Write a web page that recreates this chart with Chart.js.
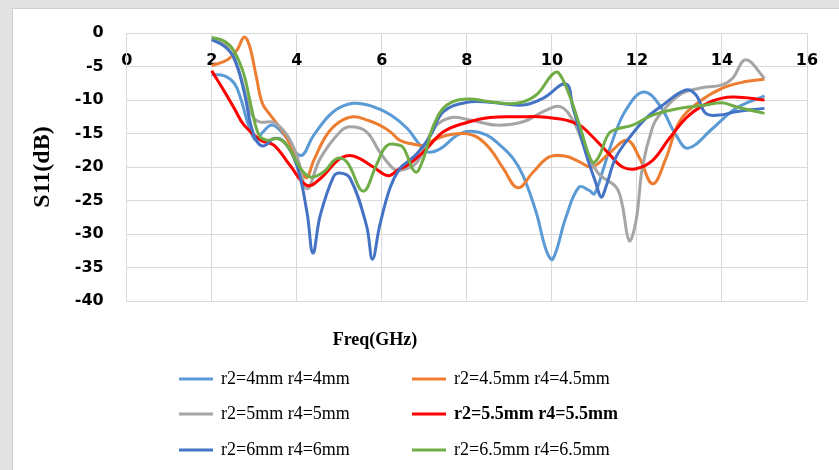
<!DOCTYPE html>
<html>
<head>
<meta charset="utf-8">
<script src="https://cdn.jsdelivr.net/npm/chart.js@4.4.0/dist/chart.umd.min.js"></script>
<style>
  html, body { margin: 0; padding: 0; background: #e2e2e2; }
  #wrap { position: relative; width: 839px; height: 470px; overflow: hidden; }
  #panel { position: absolute; left: 12px; top: 8px; width: 840px; height: 470px; background: #fff; border: 1px solid #d2d2d2; }
  canvas { position: absolute; left: 0; top: 0; }
</style>
</head>
<body>
<div id="wrap">
  <div id="panel"></div>
  <canvas id="grafica" width="839" height="470"></canvas>
</div>
<script>
/* S11 vs frecuencia para distintos radios r2 / r4 */

// etiquetas de las series (leyenda)
const etiquetas = ['r2=4mm r4=4mm', 'r2=4.5mm r4=4.5mm', 'r2=5mm r4=5mm', 'r2=5.5mm r4=5.5mm', 'r2=6mm r4=6mm', 'r2=6.5mm r4=6.5mm'];
const colores = ['#5B9BD5', '#ED7D31', '#A5A5A5', '#FF0000', '#4472C4', '#70AD47'];

// ticks de los ejes
const ticksX = [0, 2, 4, 6, 8, 10, 12, 14, 16];
const ticksY = [0, -5, -10, -15, -20, -25, -30, -35, -40];

// r2=4mm r4=4mm
const freq4 = [2.0, 2.3, 2.53, 2.68, 2.84, 3.03, 3.2, 3.42, 3.7, 4.09, 4.4, 4.86, 5.33, 5.8, 6.21, 6.6, 6.84, 7.07, 7.38, 7.77, 8.08, 8.47, 8.78, 9.09, 9.32, 9.63, 9.87, 10.02, 10.33, 10.64, 10.88, 11.0, 11.2, 11.43, 11.74, 12.15, 12.53, 12.92, 13.2, 13.78, 14.33, 15.0];
const s11_4 = [-6.2, -6.4, -7.5, -9.75, -13.25, -16.0, -14.8, -13.75, -15.2, -18.3, -15.25, -11.75, -10.5, -11.0, -12.25, -14.25, -16.25, -17.75, -17.25, -15.25, -14.65, -15.25, -16.75, -18.75, -21.25, -26.75, -32.5, -33.75, -27.5, -23.0, -23.5, -24.0, -20.5, -16.0, -11.5, -8.8, -10.75, -15.25, -17.2, -14.25, -11.25, -9.4];

// r2=4.5mm r4=4.5mm
const freq45 = [2.0, 2.37, 2.6, 2.76, 2.88, 3.04, 3.19, 3.38, 3.7, 4.0, 4.22, 4.4, 4.7, 5.0, 5.33, 5.7, 5.95, 6.2, 6.42, 6.67, 6.98, 7.22, 7.53, 7.92, 8.23, 8.54, 8.86, 9.2, 9.56, 9.94, 10.33, 10.64, 10.95, 11.34, 11.77, 12.05, 12.37, 12.68, 13.0, 13.47, 14.0, 14.56, 15.0];
const s11_45 = [-4.85, -4.0, -2.5, -0.6, -1.75, -6.25, -10.5, -12.25, -15.0, -18.75, -21.6, -19.0, -15.25, -13.3, -12.5, -13.1, -13.75, -14.75, -16.0, -16.5, -16.75, -16.0, -15.25, -15.0, -15.5, -17.25, -20.25, -23.1, -20.75, -18.5, -18.4, -19.2, -20.0, -18.0, -16.0, -18.5, -22.5, -18.75, -13.25, -10.25, -8.25, -7.25, -6.9];

// r2=5mm r4=5mm
const freq5 = [2.0, 2.37, 2.68, 2.85, 3.0, 3.15, 3.46, 3.77, 4.0, 4.24, 4.55, 5.02, 5.26, 5.64, 5.95, 6.27, 6.44, 6.83, 7.22, 7.61, 8.08, 8.7, 9.32, 9.87, 10.2, 10.49, 10.8, 11.1, 11.51, 11.65, 11.82, 11.98, 12.13, 12.37, 12.53, 13.0, 13.47, 14.0, 14.25, 14.56, 15.0];
const s11_5 = [-0.9, -2.2, -6.5, -10.5, -12.75, -13.3, -13.35, -15.25, -18.25, -23.25, -18.75, -14.75, -14.0, -14.75, -17.75, -20.25, -20.5, -19.25, -14.25, -12.65, -13.0, -13.75, -13.25, -11.5, -11.0, -13.0, -17.5, -21.0, -23.0, -25.5, -31.0, -28.0, -20.0, -14.0, -12.25, -9.25, -8.25, -7.75, -6.75, -4.0, -6.75];

// r2=5.5mm r4=5.5mm
const freq55 = [2.0, 2.3, 2.53, 2.76, 3.15, 3.46, 3.84, 4.24, 4.55, 5.02, 5.33, 5.8, 6.15, 6.42, 6.6, 6.98, 7.45, 8.0, 8.54, 9.32, 9.7, 10.1, 10.33, 10.65, 10.88, 11.34, 11.66, 11.98, 12.37, 12.76, 13.23, 13.78, 14.25, 15.0];
const s11_55 = [-5.65, -8.75, -11.25, -13.75, -16.0, -16.75, -19.75, -22.75, -21.75, -18.75, -18.35, -20.0, -21.3, -20.25, -19.75, -17.75, -14.75, -13.35, -12.6, -12.5, -12.5, -12.75, -13.0, -13.75, -15.0, -18.0, -20.0, -20.25, -19.0, -15.75, -12.25, -10.15, -9.55, -10.0];

// r2=6mm r4=6mm
const freq6 = [2.0, 2.3, 2.53, 2.76, 2.92, 3.07, 3.23, 3.46, 3.7, 4.0, 4.24, 4.38, 4.55, 4.86, 5.02, 5.26, 5.64, 5.78, 5.95, 6.2, 6.42, 6.6, 6.83, 7.15, 7.45, 8.0, 8.54, 9.32, 9.79, 10.33, 10.49, 10.8, 11.04, 11.16, 11.27, 11.51, 11.9, 12.21, 12.6, 13.15, 13.39, 13.62, 13.94, 14.33, 15.0];
const s11_6 = [-1.0, -2.0, -3.75, -8.75, -13.75, -16.25, -16.85, -15.75, -16.25, -19.75, -26.75, -32.85, -27.25, -21.5, -20.9, -21.75, -28.75, -33.75, -28.75, -23.0, -20.25, -19.25, -18.0, -15.25, -11.75, -10.35, -10.35, -10.75, -9.75, -7.6, -11.0, -18.0, -22.5, -24.5, -23.0, -18.5, -15.0, -12.75, -10.8, -8.5, -9.25, -12.0, -12.25, -11.75, -11.25];

// r2=6.5mm r4=6.5mm
const freq65 = [2.0, 2.3, 2.53, 2.76, 2.92, 3.11, 3.3, 3.54, 3.77, 4.09, 4.32, 4.63, 4.94, 5.18, 5.56, 5.87, 6.12, 6.42, 6.52, 6.79, 6.98, 7.22, 7.53, 8.0, 8.54, 9.17, 9.63, 10.0, 10.15, 10.41, 10.65, 10.95, 11.1, 11.34, 11.57, 11.9, 12.37, 13.0, 13.62, 14.0, 14.33, 15.0];
const s11_65 = [-0.65, -1.25, -2.75, -6.25, -10.75, -15.25, -16.0, -15.75, -16.75, -20.25, -21.5, -20.75, -18.75, -19.25, -23.6, -19.75, -16.8, -16.75, -17.25, -20.75, -18.75, -13.75, -10.75, -9.85, -10.25, -10.5, -9.25, -6.25, -5.9, -9.25, -13.75, -19.3, -18.5, -15.0, -14.25, -13.75, -12.25, -11.25, -10.75, -10.4, -11.0, -12.0];

const frecuencias = [freq4, freq45, freq5, freq55, freq6, freq65];
const valores = [s11_4, s11_45, s11_5, s11_55, s11_6, s11_65];

/** juntar frecuencias y valores en puntos {x, y} */
const armarPuntos = (f, s) => f.map((x, i) => ({ x: x, y: s[i] }));

/** leyenda en dos columnas dibujada en el canvas (la del chart no deja poner una en negrita) */
const leyendaColumnas = {
  id: 'leyendaColumnas',
  afterDraw(chart, args, opts) {
    const ctx = chart.ctx;
    ctx.save();
    ctx.fillStyle = '#000';
    ctx.textBaseline = 'middle';
    ctx.textAlign = 'center';
    ctx.font = 'bold 18px "Liberation Serif"';
    ctx.fillText(opts.titulo, opts.tituloX, opts.tituloY);
    ctx.textAlign = 'left';
    chart.data.datasets.forEach((ds, i) => {
      const x = opts.columnas[i % 2];
      const y = opts.filas[Math.floor(i / 2)];
      ctx.strokeStyle = ds.borderColor;
      ctx.lineWidth = 3;
      ctx.beginPath();
      ctx.moveTo(x, y);
      ctx.lineTo(x + opts.largo, y);
      ctx.stroke();
      ctx.font = (i === opts.resaltada ? 'bold ' : '') + '18px "Liberation Serif"';
      ctx.fillText(ds.label, x + opts.largo + 8, y);
    });
    ctx.restore();
  }
};

var Canvas = document.getElementById('grafica');

const datosS11 = {
  datasets: etiquetas.map((et, i) => ({
    label: et,
    data: armarPuntos(frecuencias[i], valores[i]),
    borderColor: colores[i],
    backgroundColor: colores[i],
    borderWidth: 3,
    pointRadius: 0,
    tension: 0.4,
    fill: false,
    order: etiquetas.length - i
  }))
};

const fuenteTicks = { family: '"DejaVu Sans"', size: 16, weight: 'bold' };

var graficaS11 = new Chart(Canvas, {
  type: 'line',
  data: datosS11,
  plugins: [leyendaColumnas],
  options: {
    responsive: false,
    animation: false,
    layout: { padding: { left: 24, right: 32, top: 33, bottom: 169 } },
    plugins: {
      legend: { display: false },
      tooltip: { enabled: false },
      leyendaColumnas: {
        titulo: 'Freq(GHz)',
        tituloX: 375,
        tituloY: 340,
        columnas: [179, 412],
        filas: [379, 414, 450],
        largo: 34,
        resaltada: 3
      }
    },
    scales: {
      x: {
        type: 'linear',
        position: { y: 0 },
        min: ticksX[0],
        max: ticksX[ticksX.length - 1],
        afterBuildTicks: (eje) => { eje.ticks = ticksX.map(v => ({ value: v })); },
        ticks: { font: fuenteTicks, color: '#000', padding: 18 },
        grid: { color: '#d9d9d9', drawTicks: false },
        border: { color: '#d9d9d9' }
      },
      y: {
        min: ticksY[ticksY.length - 1],
        max: ticksY[0],
        afterBuildTicks: (eje) => { eje.ticks = ticksY.map(v => ({ value: v })); },
        ticks: { font: fuenteTicks, color: '#000', padding: 23 },
        grid: { color: '#d9d9d9', drawTicks: false },
        border: { color: '#d9d9d9' },
        title: {
          display: true,
          text: 'S11(dB)',
          color: '#000',
          font: { family: '"Liberation Serif"', size: 24, weight: 'bold' },
          padding: { top: 4, bottom: -5 }
        }
      }
    }
  }
});
</script>
</body>
</html>
